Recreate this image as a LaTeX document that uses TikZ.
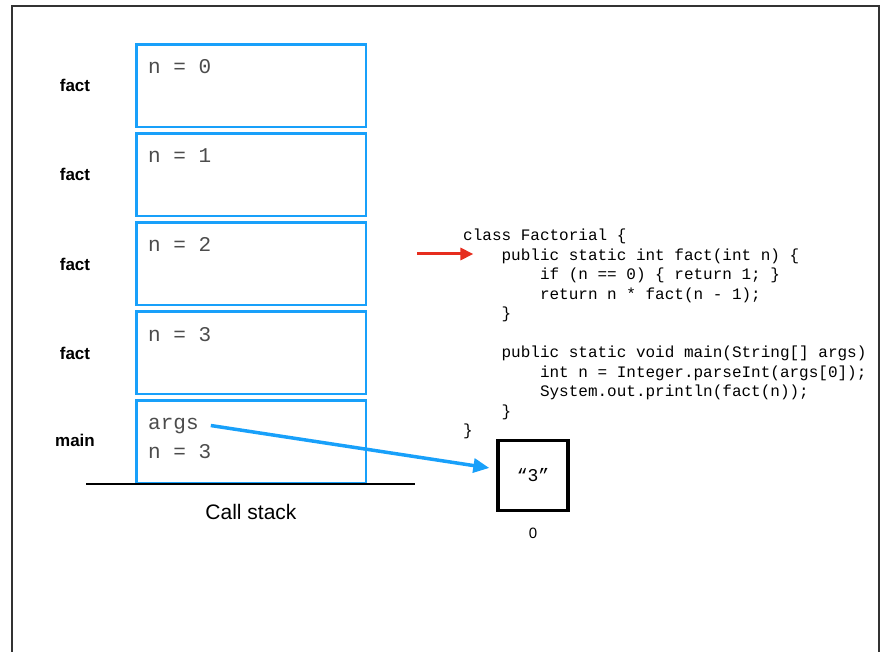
\documentclass[tikz,border=0pt]{standalone}
\usepackage{fontspec}
\setmainfont{Liberation Sans}
\setmonofont{Liberation Mono}
\usetikzlibrary{arrows.meta}

\definecolor{stackblue}{RGB}{24,160,250}
\definecolor{ptrred}{RGB}{230,45,30}
\tikzset{
  frame/.style={draw=stackblue, line width=2.6pt, minimum width=229.4pt, minimum height=82.5pt, anchor=north west, inner sep=0pt},
  frametxt/.style={font=\ttfamily\fontsize{21}{21}\selectfont, text=black!70, anchor=base west, inner sep=0pt},
  fname/.style={font=\bfseries\fontsize{17}{17}\selectfont, anchor=base, inner sep=0pt},
  codeline/.style={font=\ttfamily\fontsize{16}{16}\selectfont, anchor=base west, inner sep=0pt},
}

\begin{document}
\begin{tikzpicture}[x=1pt, y=-1pt]
\useasboundingbox (0,0) rectangle (883,652);
% outer frame
\draw [black!80, line width=1.2pt] (12,652) -- (12,6) -- (879,6) -- (879,652);
% call stack
\foreach \i in {0,...,3} {
  \pgfmathsetmacro\ytop{42+89*\i}
  \node [frame] (fr\i) at (135.3,\ytop+1.3) {};
  \node [frametxt] (n\i) at (148,\ytop+32) {n = \i};
  \node [fname] (f\i) at (75,\ytop+50) {fact};
}
\node [frame] (frmain) at (135.3,399.3) {};
\node [frametxt] (args) at (148,429) {args};
\node [frametxt] (nmain) at (148,458) {n = 3};
\node [fname] (lmain) at (75,446) {main};
\draw [line width=2pt] (86,484) -- (415,484);
\node [anchor=base, font=\fontsize{21}{21}\selectfont] (cs) at (251,519) {Call stack};
% array
\node [draw, line width=3.5pt, minimum size=70pt, font=\ttfamily\fontsize{18}{18}\selectfont] (str) at (533,475.5) {“3”};
\node [anchor=base, font=\fontsize{15}{15}\selectfont] (idx) at (533,538) {0};
\draw [stackblue, line width=3.5pt, -{Triangle[length=16pt,width=14pt]}, shorten >=7pt] ([xshift=12pt]args.east) -- (str.170);
% code
\foreach \i/\ind/\txt in {0/0/class Factorial \{, 1/4/public static int fact(int n) \{,
    2/8/if (n == 0) \{ return 1; \}, 3/8/return n * fact(n - 1);, 4/4/\},
    6/4/public static void main(String[] args), 7/8/int n = Integer.parseInt(args[0]);,
    8/8/System.out.println(fact(n));, 9/4/\}, 10/0/\}}
  \node [codeline] (c\i) at (463+9.6*\ind,241+19.45*\i) {\txt};
\coordinate (redtail) at (417,254);
\draw [ptrred, line width=3pt, -{Triangle[length=13pt,width=12pt]}] (redtail) -- ([xshift=-28pt]c1.west |- redtail);
\end{tikzpicture}
\end{document}
